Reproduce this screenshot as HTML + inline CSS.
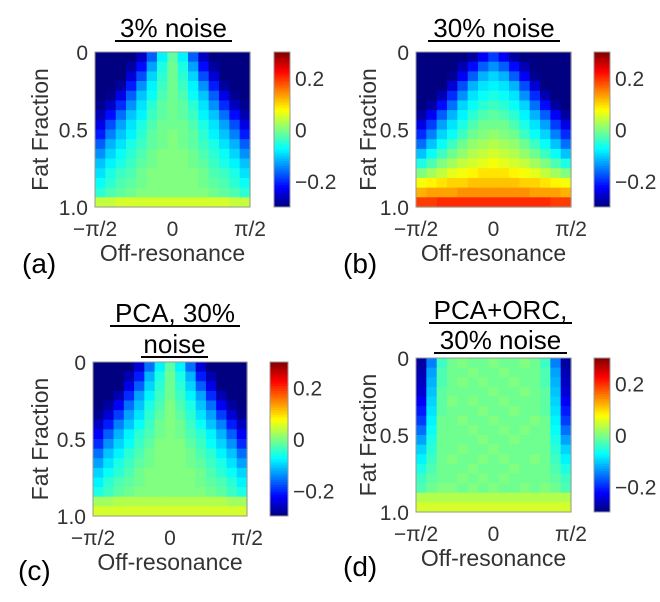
<!DOCTYPE html>
<html><head><meta charset="utf-8"><style>
html,body{margin:0;padding:0;background:#fff;}
svg{display:block;}
text{font-family:"Liberation Sans",sans-serif;}
.tk{font-size:21px;fill:#333;}
.lab{font-size:23px;fill:#333;}
.ttl{font-size:26px;fill:#000;}
.pl{font-size:28px;fill:#000;}
</style></head><body>
<svg id="fig" width="660" height="602" viewBox="0 0 660 602"></svg>
<script>
// data: error maps, rows = fat fraction 0..1 (16 rows), cols = off-resonance -pi/2..pi/2 (15 cols)
const yTicks = ["0","0.5","1.0"];
const yTickVals = [0,0.5,1.0];
const xTicks = ["\u2212\u03c0/2","0","\u03c0/2"];
const xTickVals = [-1,0,1];
const cbTicks = ["0.2","0","\u22120.2"];
const cbTickVals = [0.2,0,-0.2];
const panelTitles = [["3% noise"],["30% noise"],["PCA, 30%","noise"],["PCA+ORC,","30% noise"]];
const panelLetters = ["(a)","(b)","(c)","(d)"];

const mapA = [
[-.3,-.3,-.3,-.3,-.26,-.17,-.08,-.02,-.08,-.17,-.26,-.3,-.3,-.3,-.3],
[-.3,-.3,-.3,-.28,-.22,-.13,-.06,-.01,-.06,-.13,-.22,-.28,-.3,-.3,-.3],
[-.3,-.3,-.3,-.25,-.18,-.1,-.05,-.01,-.05,-.1,-.18,-.25,-.3,-.3,-.3],
[-.3,-.3,-.28,-.21,-.14,-.08,-.04,-.01,-.04,-.08,-.14,-.21,-.28,-.3,-.3],
[-.3,-.29,-.24,-.17,-.11,-.07,-.03,-.01,-.03,-.07,-.11,-.17,-.24,-.29,-.3],
[-.29,-.26,-.2,-.14,-.09,-.05,-.02,-.01,-.02,-.05,-.09,-.14,-.2,-.26,-.29],
[-.27,-.22,-.16,-.11,-.08,-.04,-.02,-.01,-.02,-.04,-.08,-.11,-.16,-.22,-.27],
[-.24,-.18,-.13,-.09,-.06,-.03,-.01,-.01,-.01,-.03,-.06,-.09,-.13,-.18,-.24],
[-.21,-.15,-.11,-.08,-.05,-.02,-.01,0,-.01,-.02,-.05,-.08,-.11,-.15,-.21],
[-.17,-.12,-.09,-.06,-.04,-.02,-.01,0,-.01,-.02,-.04,-.06,-.09,-.12,-.17],
[-.14,-.1,-.07,-.05,-.03,-.01,0,0,0,-.01,-.03,-.05,-.07,-.1,-.14],
[-.11,-.08,-.06,-.04,-.02,-.01,0,0,0,-.01,-.02,-.04,-.06,-.08,-.11],
[-.09,-.06,-.04,-.03,-.01,0,0,0,0,0,-.01,-.03,-.04,-.06,-.09],
[-.07,-.05,-.03,-.02,-.01,0,0,0,0,0,-.01,-.02,-.03,-.05,-.07],
[-.05,-.03,-.02,-.01,0,0,0,0,0,0,0,-.01,-.02,-.03,-.05],
[.04,.04,.05,.05,.05,.05,.05,.05,.05,.05,.05,.05,.05,.04,.04]];

const mapB = [
[-.3,-.3,-.3,-.3,-.3,-.28,-.23,-.19,-.23,-.28,-.3,-.3,-.3,-.3,-.3],
[-.3,-.3,-.3,-.3,-.27,-.22,-.17,-.14,-.17,-.22,-.27,-.3,-.3,-.3,-.3],
[-.3,-.3,-.3,-.29,-.23,-.17,-.12,-.1,-.12,-.17,-.23,-.29,-.3,-.3,-.3],
[-.3,-.3,-.3,-.25,-.18,-.12,-.09,-.08,-.09,-.12,-.18,-.25,-.3,-.3,-.3],
[-.3,-.3,-.27,-.2,-.14,-.09,-.07,-.06,-.07,-.09,-.14,-.2,-.27,-.3,-.3],
[-.3,-.28,-.22,-.16,-.1,-.07,-.05,-.04,-.05,-.07,-.1,-.16,-.22,-.28,-.3],
[-.28,-.23,-.17,-.12,-.08,-.05,-.03,-.02,-.03,-.05,-.08,-.12,-.17,-.23,-.28],
[-.24,-.19,-.13,-.09,-.06,-.03,-.01,-.01,-.01,-.03,-.06,-.09,-.13,-.19,-.24],
[-.2,-.15,-.1,-.07,-.04,-.01,0,.01,0,-.01,-.04,-.07,-.1,-.15,-.2],
[-.16,-.11,-.07,-.04,-.01,.01,.02,.03,.02,.01,-.01,-.04,-.07,-.11,-.16],
[-.11,-.07,-.04,-.01,.01,.03,.04,.05,.04,.03,.01,-.01,-.04,-.07,-.11],
[-.06,-.03,0,.02,.04,.05,.06,.07,.06,.05,.04,.02,0,-.03,-.06],
[0,.02,.04,.06,.07,.08,.09,.09,.09,.08,.07,.06,.04,.02,0],
[.07,.08,.09,.1,.1,.11,.11,.11,.11,.11,.1,.1,.09,.08,.07],
[.12,.13,.13,.13,.14,.14,.14,.14,.14,.14,.14,.13,.13,.13,.12],
[.19,.19,.2,.2,.2,.2,.2,.2,.2,.2,.2,.2,.2,.19,.19]];

const mapC = [
[-.3,-.3,-.3,-.3,-.25,-.16,-.08,-.02,-.08,-.16,-.25,-.3,-.3,-.3,-.3],
[-.3,-.3,-.3,-.27,-.21,-.12,-.06,-.01,-.06,-.12,-.21,-.27,-.3,-.3,-.3],
[-.3,-.3,-.3,-.24,-.17,-.1,-.05,-.01,-.05,-.1,-.17,-.24,-.3,-.3,-.3],
[-.3,-.3,-.27,-.2,-.13,-.08,-.04,-.01,-.04,-.08,-.13,-.2,-.27,-.3,-.3],
[-.3,-.28,-.23,-.16,-.11,-.06,-.03,0,-.03,-.06,-.11,-.16,-.23,-.28,-.3],
[-.29,-.25,-.19,-.13,-.09,-.05,-.02,0,-.02,-.05,-.09,-.13,-.19,-.25,-.29],
[-.26,-.21,-.15,-.11,-.07,-.04,-.01,0,-.01,-.04,-.07,-.11,-.15,-.21,-.26],
[-.23,-.17,-.12,-.08,-.05,-.03,-.01,0,-.01,-.03,-.05,-.08,-.12,-.17,-.23],
[-.2,-.14,-.1,-.07,-.04,-.02,0,0,0,-.02,-.04,-.07,-.1,-.14,-.2],
[-.16,-.11,-.08,-.05,-.03,-.01,0,0,0,-.01,-.03,-.05,-.08,-.11,-.16],
[-.13,-.09,-.06,-.04,-.02,-.01,0,0,0,-.01,-.02,-.04,-.06,-.09,-.13],
[-.1,-.07,-.05,-.03,-.01,0,0,0,0,0,-.01,-.03,-.05,-.07,-.1],
[-.08,-.05,-.03,-.02,-.01,0,0,0,0,0,-.01,-.02,-.03,-.05,-.08],
[-.06,-.04,-.02,-.01,0,0,0,0,0,0,0,-.01,-.02,-.04,-.06],
[.02,.02,.03,.03,.03,.03,.03,.03,.03,.03,.03,.03,.03,.02,.02],
[.05,.05,.05,.05,.05,.05,.05,.05,.05,.05,.05,.05,.05,.05,.05]];

const mapD = [
[-.28,-.15,-.04,-.01,0,-.01,-.01,0,-.01,-.01,0,-.01,-.04,-.15,-.28],
[-.27,-.13,-.03,-.01,-.01,0,-.01,-.01,0,-.01,-.01,-.01,-.03,-.13,-.27],
[-.26,-.12,-.03,-.01,0,-.01,0,-.01,-.01,0,-.01,-.01,-.03,-.12,-.26],
[-.25,-.11,-.02,-.01,-.01,-.01,-.01,0,-.01,-.01,0,-.01,-.02,-.11,-.25],
[-.23,-.1,-.02,0,-.01,0,-.01,-.01,0,-.01,-.01,-.01,-.02,-.1,-.23],
[-.21,-.09,-.02,-.01,-.01,-.01,0,-.01,-.01,0,-.01,-.01,-.02,-.09,-.21],
[-.19,-.08,-.01,-.01,0,-.01,-.01,0,-.01,-.01,-.01,0,-.01,-.08,-.19],
[-.16,-.07,-.01,-.01,-.01,0,-.01,-.01,0,-.01,0,-.01,-.01,-.07,-.16],
[-.13,-.06,-.01,-.01,-.01,-.01,0,-.01,-.01,0,-.01,-.01,-.01,-.06,-.13],
[-.1,-.05,-.01,-.01,0,-.01,-.01,0,-.01,-.01,-.01,-.01,-.01,-.05,-.1],
[-.08,-.04,-.01,0,-.01,-.01,0,-.01,0,-.01,-.01,0,-.01,-.04,-.08],
[-.06,-.03,-.01,-.01,-.01,0,-.01,-.01,-.01,0,-.01,-.01,-.01,-.03,-.06],
[-.04,-.02,-.01,-.01,0,-.01,0,-.01,0,-.01,-.01,-.01,-.01,-.02,-.04],
[-.03,-.01,0,0,-.01,0,-.01,0,-.01,-.01,0,-.01,0,-.01,-.03],
[.03,.03,.03,.03,.03,.03,.03,.03,.03,.03,.03,.03,.03,.03,.03],
[.05,.05,.05,.05,.05,.05,.05,.05,.05,.05,.05,.05,.05,.05,.05]];

const maps = [mapA, mapB, mapC, mapD];
const NS = "http://www.w3.org/2000/svg";
const svg = document.getElementById('fig');
const layout = [
  {x0:95,x1:250,y0:52,y1:207,cx:274,cw:16,ylab:40,ttlY:[37],ul:[[115,232]],xtY:236,xlY:261,letX:22,letY:273},
  {x0:416,x1:571,y0:52,y1:207,cx:594,cw:16,ylab:368,ttlY:[37],ul:[[428,560]],xtY:236,xlY:261,letX:343,letY:273},
  {x0:93,x1:247,y0:362,y1:516,cx:270,cw:18,ylab:40,ttlY:[322,353],ul:[[110,240],[141,208]],xtY:545,xlY:570,letX:18,letY:580},
  {x0:416,x1:571,y0:358,y1:512,cx:594,cw:16,ylab:368,ttlY:[319,349],ul:[[429,572],[434,567]],xtY:541,xlY:566,letX:343,letY:576}
];
function jet(v){
  let t=(v+0.3)/0.6; t=Math.max(0,Math.min(1,t));
  const c=x=>Math.round(255*Math.max(0,Math.min(1,1.5-Math.abs(x))));
  return `rgb(${c(4*t-3)},${c(4*t-2)},${c(4*t-1)})`;
}
function mk(tag, attrs, txt){
  const e=document.createElementNS(NS,tag);
  for(const k in attrs) e.setAttribute(k,attrs[k]);
  if(txt!==undefined) e.textContent=txt;
  svg.appendChild(e); return e;
}
layout.forEach((L,p)=>{
  const data=maps[p];
  const nr=data.length, nc=data[0].length;
  const xs=i=>L.x0+(L.x1-L.x0)*i/nc;
  const ys=j=>L.y0+(L.y1-L.y0)*j/nr;
  for(let j=0;j<nr;j++)for(let i=0;i<nc;i++){
    const r=mk('rect',{x:xs(i).toFixed(2),y:ys(j).toFixed(2),width:((L.x1-L.x0)/nc+0.6).toFixed(2),height:((L.y1-L.y0)/nr+0.6).toFixed(2),fill:jet(data[j][i])});
    
    
  }
  const fr=mk('rect',{x:L.x0,y:L.y0,width:L.x1-L.x0,height:L.y1-L.y0,fill:'none',stroke:'#999','stroke-width':1});
  
  
  const fy=v=>L.y0+(L.y1-L.y0)*v;
  yTicks.forEach((t,k)=>{
    const e=mk('text',{x:L.x0-7,y:fy(yTickVals[k])+8,'text-anchor':'end',class:'tk'},t);
    
    
  });
  const fx=v=>(L.x0+L.x1)/2+(L.x1-L.x0)/2*v;
  xTicks.forEach((t,k)=>{
    const e=mk('text',{x:fx(xTickVals[k]),y:L.xtY,'text-anchor':'middle',class:'tk'},t);
    
    
  });
  const xl=mk('text',{x:(L.x0+L.x1)/2,y:L.xlY,'text-anchor':'middle',class:'lab'},'Off-resonance');
  
  
  const cyc=(L.y0+L.y1)/2;
  const yl=mk('text',{x:L.ylab,y:cyc,'text-anchor':'middle',class:'lab',transform:`rotate(-90 ${L.ylab} ${cyc})`,dy:8},'Fat Fraction');
  
  
  const nseg=64;
  for(let s=0;s<nseg;s++){
    const v=0.3-0.6*(s+0.5)/nseg;
    const r=mk('rect',{x:L.cx,y:(L.y0+(L.y1-L.y0)*s/nseg).toFixed(2),width:L.cw,height:((L.y1-L.y0)/nseg+0.5).toFixed(2),fill:jet(v)});
    
    
  }
  const cb=mk('rect',{x:L.cx,y:L.y0,width:L.cw,height:L.y1-L.y0,fill:'none',stroke:'#999','stroke-width':1});
  
  
  const fc=v=>L.y1-(L.y1-L.y0)*(v+0.3)/0.6;
  cbTicks.forEach((t,k)=>{
    const e=mk('text',{x:L.cx+L.cw+5,y:fc(cbTickVals[k])+8,class:'tk'},t);
    
    
  });
  panelTitles[p].forEach((t,k)=>{
    const u=L.ul[k];
    const e=mk('text',{x:(u[0]+u[1])/2,y:L.ttlY[k],'text-anchor':'middle',class:'ttl'},t);
    
    
    const ln=mk('line',{x1:u[0],x2:u[1],y1:L.ttlY[k]+4,y2:L.ttlY[k]+4,stroke:'#000','stroke-width':2});
    
    
  });
  const le=mk('text',{x:L.letX,y:L.letY,class:'pl'},panelLetters[p]);
  
  
});
</script>
</body></html>
